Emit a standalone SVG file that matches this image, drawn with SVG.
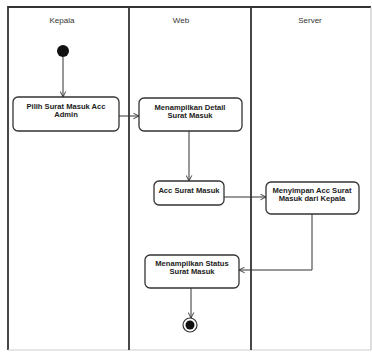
<svg xmlns="http://www.w3.org/2000/svg" width="372" height="352" viewBox="0 0 372 352">
<style>
.lane{fill:none;stroke:#333;stroke-width:1.8}
.title{font-family:"Liberation Sans",Arial,sans-serif;font-size:8px;fill:#333;text-anchor:middle}
.box{fill:#fff;stroke:#333;stroke-width:1.3}
.t{font-family:"Liberation Sans",Arial,sans-serif;font-size:7.6px;font-weight:bold;fill:#222;text-anchor:middle}
.c{fill:none;stroke:#333;stroke-width:1;marker-end:url(#arr)}
</style>
<defs>
<marker id="arr" viewBox="0 0 10 10" refX="9" refY="5" markerWidth="7" markerHeight="7" orient="auto" markerUnits="userSpaceOnUse">
<path d="M1,1 L9,5 L1,9" fill="none" stroke="#333" stroke-width="1.3"/>
</marker>
</defs>
<rect width="372" height="352" fill="#fff"/>
<g id="lanes">
<path class="lane" d="M8,350 V7 H371"/>
<line x1="371" y1="7" x2="371" y2="350" stroke="#bbb" stroke-width="1"/>
<line x1="8" y1="350" x2="371" y2="350" stroke="#ccc" stroke-width="1"/>
<line class="lane" x1="129" y1="7" x2="129" y2="350"/>
<line class="lane" x1="251" y1="7" x2="251" y2="350"/>
<text class="title" x="62" y="23">Kepala</text>
<text class="title" x="181" y="23">Web</text>
<text class="title" x="310" y="23">Server</text>
</g>
<g id="connectors">
<line class="c" x1="63" y1="57" x2="63" y2="97"/>
<line class="c" x1="119" y1="116" x2="139" y2="116"/>
<line class="c" x1="189" y1="131" x2="189" y2="181"/>
<line class="c" x1="224" y1="197" x2="266" y2="197"/>
<polyline class="c" points="312,214 312,270 239,270"/>
<line class="c" x1="191" y1="288" x2="191" y2="318"/>
</g>
<g id="start"><circle cx="63" cy="51" r="6" fill="#111"/></g>
<g id="n1">
<rect class="box" x="13" y="97" width="106" height="34" rx="5"/>
<text class="t" x="66" y="109">Pilih Surat Masuk Acc</text>
<text class="t" x="66" y="117">Admin</text>
</g>
<g id="n2">
<rect class="box" x="139" y="98" width="103" height="33" rx="5"/>
<text class="t" x="190" y="110">Menampilkan Detail</text>
<text class="t" x="190" y="118">Surat Masuk</text>
</g>
<g id="n3">
<rect class="box" x="154" y="181" width="70" height="24" rx="5"/>
<text class="t" x="189" y="193">Acc Surat Masuk</text>
</g>
<g id="n4">
<rect class="box" x="266" y="182" width="93" height="32" rx="5"/>
<text class="t" x="312" y="193">Menyimpan Acc Surat</text>
<text class="t" x="312" y="201">Masuk dari Kepala</text>
</g>
<g id="n5">
<rect class="box" x="145" y="255" width="94" height="33" rx="5"/>
<text class="t" x="192" y="266">Menampilkan Status</text>
<text class="t" x="192" y="274">Surat Masuk</text>
</g>
<g id="end">
<circle cx="190" cy="325" r="7" fill="#fff" stroke="#333" stroke-width="1.2"/>
<circle cx="190" cy="325" r="4.5" fill="#111"/>
</g>
</svg>
